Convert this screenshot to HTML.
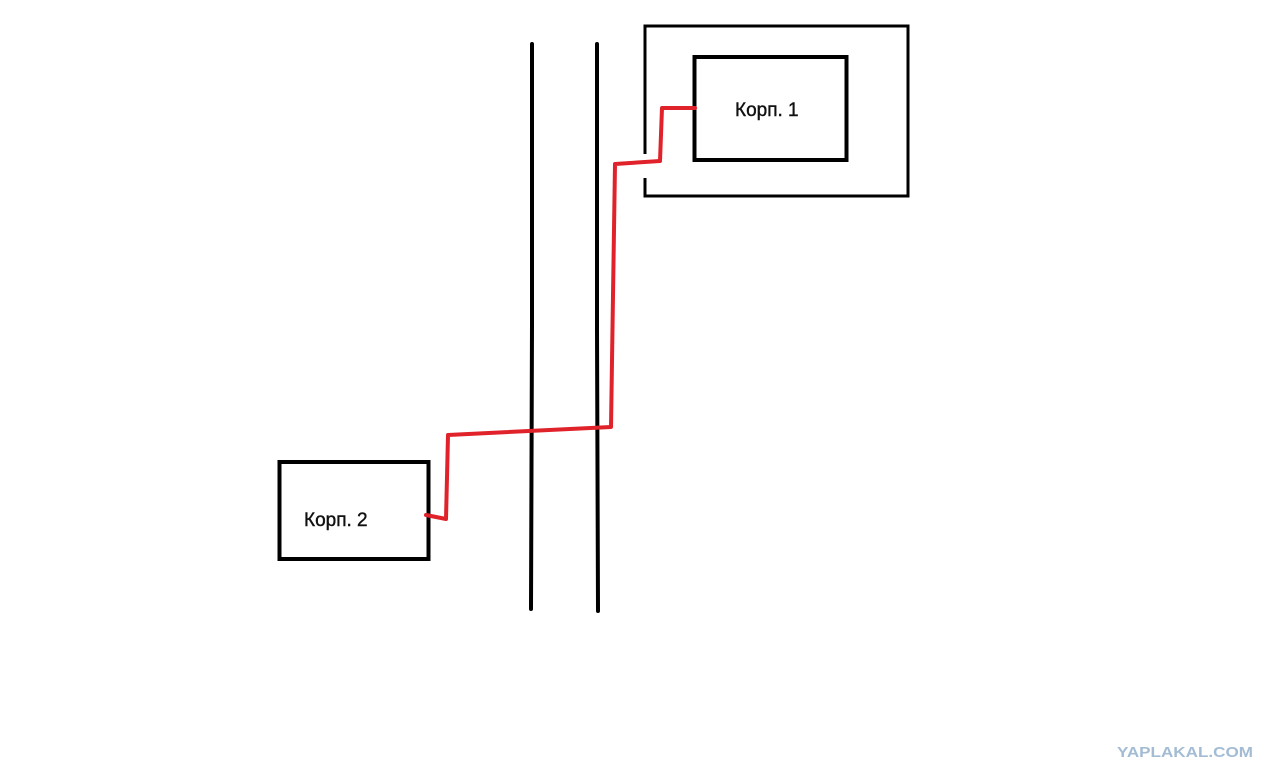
<!DOCTYPE html>
<html><head><meta charset="utf-8"><style>
html,body{margin:0;padding:0;background:#fff;}
svg{display:block;}
text{font-family:"Liberation Sans",sans-serif;}
</style></head><body>
<svg width="1280" height="781" viewBox="0 0 1280 781" xmlns="http://www.w3.org/2000/svg">
<rect width="1280" height="781" fill="#fff"/>
<path d="M645,154 L645,26 L908,26 L908,196 L645,196 L645,178" fill="none" stroke="#000" stroke-width="3"/>
<rect x="694.5" y="57" width="152" height="103" fill="none" stroke="#000" stroke-width="4"/>
<text x="735" y="116" font-size="19" fill="#111" stroke="#111" stroke-width="0.4">Корп. 1</text>
<rect x="279.5" y="462" width="149" height="97" fill="none" stroke="#000" stroke-width="4"/>
<text x="304" y="526" font-size="19" fill="#111" stroke="#111" stroke-width="0.4">Корп. 2</text>
<path d="M532,44 L532,325 L531,609" fill="none" stroke="#000" stroke-width="4" stroke-linecap="round"/>
<path d="M597,44 L597,330 L598,611" fill="none" stroke="#000" stroke-width="4" stroke-linecap="round"/>
<path d="M426,515 L446,519 L448,435 L611,427 L615,164 L660,161 L662,108 L695,108" fill="none" stroke="#e0222a" stroke-width="4" stroke-linejoin="round" stroke-linecap="round"/>
<text x="1117" y="757" font-size="15" font-weight="bold" fill="#a3bcd4" textLength="136" lengthAdjust="spacingAndGlyphs">YAPLAKAL.COM</text>
</svg>
</body></html>
